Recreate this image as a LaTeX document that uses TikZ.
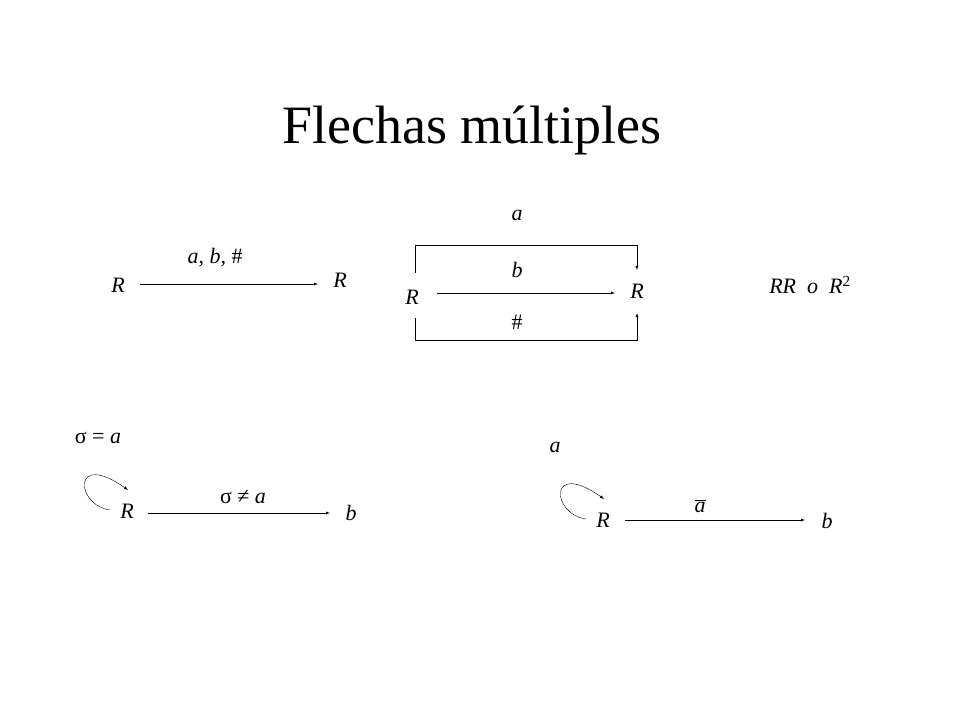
\documentclass[tikz,border=0pt]{standalone}
\usepackage{fontspec}
\setmainfont{Liberation Serif}
\usetikzlibrary{arrows}
\tikzset{lbl/.style={font=\fontsize{22}{24}\selectfont\itshape, inner sep=1pt},
         arr/.style={-latex, thin}}
\begin{document}
\begin{tikzpicture}[x=1pt, y=-1pt]
\useasboundingbox (0,0) rectangle (960,720);
\node (title) at (472,130) {\fontsize{54}{60}\selectfont Flechas múltiples};
% first arrow
\node[lbl] (r1) at (118,285) {R};
\node[lbl] (r2) at (340,280) {R};
\node[lbl] (l1) at (215,258) {a, b, \upshape\#};
\draw [arr] (140,284) -- (318,284);
% several arrows
\node[lbl] (r3) at (412,297) {R};
\node[lbl] (r4) at (637,291) {R};
\node[lbl] (la) at (517,215) {a};
\node[lbl] (lb) at (517,270) {b};
\node[lbl] (lh) at (517,322) {\upshape\#};
\draw [arr] (437,293) -- (615,293);
\draw [arr] (415,273) -- (415,245) -- (637,245) -- (637,270);
\draw [arr] (415,318) -- (415,340) -- (637,340) -- (637,313);
\node[lbl] (rr) at (810,285) {RR\ \ o\ \ R\textsuperscript{\upshape 2}};
% loop with sigma
\node[lbl] (s1) at (98,438) {\upshape σ = \itshape a};
\node[lbl] (r5) at (127,511) {R};
\node[lbl] (b1) at (351,513) {b};
\node[lbl] (s2) at (243,497) {\upshape σ ≠ \itshape a};
\coordinate (p1) at (110,510);
\coordinate (q1) at (128,490);
\draw [arr] (p1) .. controls (75,505) and (72,450) .. (q1);
\draw [arr] (148,513) -- (330,513);
% loop with a
\node[lbl] (a2) at (555,447) {a};
\node[lbl] (r6) at (603,520) {R};
\node[lbl] (b2) at (827,521) {b};
\node[lbl] (a3) at (700,506) {$\overline{\mbox{\itshape a}}$};
\coordinate (p2) at (586,519);
\coordinate (q2) at (604,499);
\draw [arr] (p2) .. controls (551,514) and (548,459) .. (q2);
\draw [arr] (625,520) -- (805,520);
\end{tikzpicture}
\end{document}
